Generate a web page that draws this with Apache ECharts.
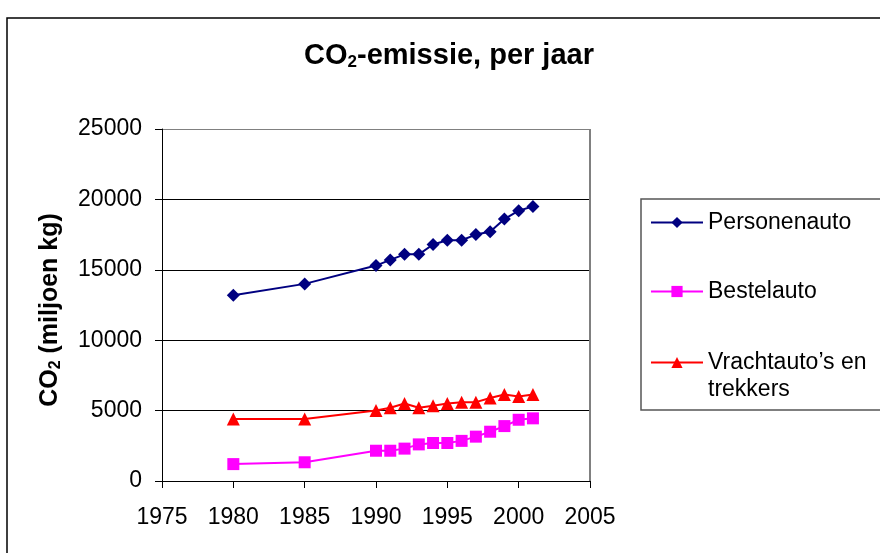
<!DOCTYPE html>
<html>
<head>
<meta charset="utf-8">
<script src="https://cdn.jsdelivr.net/npm/echarts@6/dist/echarts.min.js"></script>
<style>
  html, body { margin: 0; padding: 0; background: #fff; }
  #chart { width: 880px; height: 553px; }
</style>
</head>
<body>
<div id="chart"></div>
<script>
// CO2 emissions per year by vehicle type (million kg)
const years = [1980, 1985, 1990, 1991, 1992, 1993, 1994, 1995, 1996, 1997, 1998, 1999, 2000, 2001];
const personenauto = [13200, 14000, 15300, 15700, 16100, 16100, 16800, 17100, 17100, 17500, 17700, 18600, 19200, 19500];
const bestelauto = [1200, 1330, 2150, 2150, 2300, 2600, 2700, 2700, 2850, 3150, 3500, 3900, 4350, 4450];
const vrachtauto = [4400, 4400, 5000, 5200, 5500, 5200, 5350, 5500, 5600, 5600, 5900, 6150, 6000, 6150];
const seriesNames = ['Personenauto', 'Bestelauto', 'Vrachtauto\u2019s en trekkers'];
const xTicks = [1975, 1980, 1985, 1990, 1995, 2000, 2005];
const yTicks = [0, 5000, 10000, 15000, 20000, 25000];

const FONT = '"Liberation Sans", Arial, sans-serif';
const pairs = (vals) => years.map((y, i) => [y, vals[i]]);

const chart = echarts.init(document.getElementById('chart'), null, { renderer: 'canvas' });

const legendBase = {
  orient: 'vertical',
  left: 650,
  padding: 0,
  itemWidth: 52,
  itemHeight: 14,
  selectedMode: false,
  textStyle: { fontFamily: FONT, fontSize: 23, color: '#000', lineHeight: 27 }
};

chart.setOption({
  animation: false,
  backgroundColor: '#fff',
  title: {
    text: '{a|CO}{s|2}{a|-emissie, per jaar}',
    left: 444,
    textAlign: 'center',
    top: 36,
    textStyle: {
      rich: {
        a: { fontFamily: FONT, fontSize: 29, fontWeight: 'bold', color: '#000' },
        s: { fontFamily: FONT, fontSize: 17, fontWeight: 'bold', color: '#000', padding: [13, 0, 0, 0] }
      }
    }
  },
  grid: { left: 162, top: 129, width: 428, height: 352, containLabel: false },
  legend: [
    Object.assign({}, legendBase, { data: [seriesNames[0]], top: 209 }),
    Object.assign({}, legendBase, { data: [seriesNames[1]], top: 278 }),
    Object.assign({}, legendBase, {
      data: [seriesNames[2]],
      top: 322,
      // leading blank line keeps the icon level with the first text line
      formatter: () => '\nVrachtauto\u2019s en\ntrekkers'
    })
  ],
  xAxis: {
    type: 'value',
    min: xTicks[0],
    max: xTicks[xTicks.length - 1],
    interval: 5,
    axisLine: { show: true, onZero: false, lineStyle: { color: '#000', width: 1 } },
    axisTick: { show: true, inside: false, length: 7, lineStyle: { color: '#000' } },
    axisLabel: { fontFamily: FONT, fontSize: 23, color: '#000', margin: 25, formatter: (v) => String(v) },
    splitLine: {
      show: true,
      lineStyle: { color: xTicks.map((t, i) => i === xTicks.length - 1 ? '#808080' : 'rgba(0,0,0,0)'), width: 2 }
    }
  },
  yAxis: {
    type: 'value',
    min: yTicks[0],
    max: yTicks[yTicks.length - 1],
    interval: 5000,
    name: '{a|CO}{s|2}{a| (miljoen kg)}',
    nameLocation: 'middle',
    nameRotate: 90,
    nameGap: 98,
    nameTextStyle: {
      padding: [0, 10, 0, 0],
      rich: {
        a: { fontFamily: FONT, fontSize: 25, fontWeight: 'bold', color: '#000' },
        s: { fontFamily: FONT, fontSize: 16, fontWeight: 'bold', color: '#000', padding: [11, 0, 0, 0] }
      }
    },
    axisLine: { show: true, lineStyle: { color: '#000', width: 1 } },
    axisTick: { show: true, inside: false, length: 7, lineStyle: { color: '#000' } },
    axisLabel: { fontFamily: FONT, fontSize: 23, color: '#000', margin: 20, formatter: (v) => String(v) },
    splitLine: {
      show: true,
      lineStyle: { color: yTicks.map((t, i) => i === yTicks.length - 1 ? '#808080' : '#000'), width: 1 }
    }
  },
  graphic: [
    {
      type: 'rect',
      shape: { x: 7, y: 18, width: 900, height: 600 },
      style: { fill: 'none', stroke: '#000', lineWidth: 1.5 },
      silent: true,
      z: -1
    },
    {
      type: 'rect',
      shape: { x: 641, y: 199, width: 260, height: 211 },
      style: { fill: 'none', stroke: '#555', lineWidth: 1.5 },
      silent: true,
      z: -1
    }
  ],
  series: [
    {
      name: seriesNames[0], type: 'line', data: pairs(personenauto),
      symbol: 'diamond', symbolSize: 13,
      lineStyle: { color: '#000080', width: 2 },
      itemStyle: { color: '#000080' }
    },
    {
      name: seriesNames[1], type: 'line', data: pairs(bestelauto),
      symbol: 'rect', symbolSize: 12,
      lineStyle: { color: '#FF00FF', width: 2 },
      itemStyle: { color: '#FF00FF' }
    },
    {
      name: seriesNames[2], type: 'line', data: pairs(vrachtauto),
      symbol: 'triangle', symbolSize: 13,
      lineStyle: { color: '#FF0000', width: 2 },
      itemStyle: { color: '#FF0000' }
    }
  ]
});
</script>
</body>
</html>
